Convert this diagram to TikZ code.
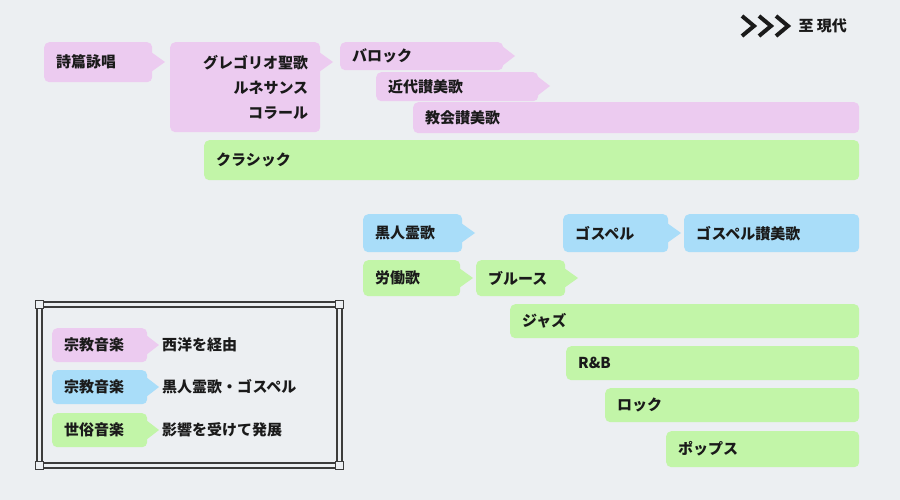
\documentclass[tikz,border=0pt]{standalone}
\usepackage{fontspec}
\setmainfont{Noto Sans CJK JP}
\definecolor{bg}{HTML}{ECEFF2}
\definecolor{pk}{HTML}{ECCBF0}
\definecolor{bl}{HTML}{A9DDF9}
\definecolor{gr}{HTML}{C2F5A8}
\definecolor{tx}{HTML}{1A1A1A}
\newcommand{\bx}[7]{% name, x1,y1,x2,y2,color,text
  \pgfmathsetmacro{\ww}{#4-#2-24}\pgfmathsetmacro{\hh}{#5-#3}
  \node[box,fill=#6,text width=\ww pt,minimum height=\hh pt] (#1) at (#2,#3) {#7};}
\newcommand{\tipp}[5]{% color, x, y, len, halfheight
  \fill[#1] (#2,#3-#5) -- (#2+#4,#3) -- (#2,#3+#5) -- cycle;}
\begin{document}
\begin{tikzpicture}[x=1pt,y=-1pt,
  box/.style={anchor=north west,rounded corners=5pt,inner xsep=12pt,inner ysep=0pt,align=left,font=\fontsize{15}{25}\selectfont\bfseries,text=tx},
  frm/.style={draw=tx!85,line width=1.4pt}]
\fill[bg] (0,0) rectangle (900,500);
\useasboundingbox (0,0) rectangle (900,500);
% top right
\foreach \i in {0,1,2}{
  \draw[line width=4pt,tx,line join=miter] (742+\i*17,16) -- (754+\i*17,26) -- (742+\i*17,36);}
\node[font=\fontsize{15}{18}\selectfont\bfseries,text=tx,anchor=west] (now) at (795,26) {至 現代};
% western religious
\bx{a}{44}{42}{152}{82}{pk}{詩篇詠唱}\tipp{pk}{151}{62}{14}{10}
\node[box,fill=pk,text width=126pt,minimum height=90pt,align=right,inner ysep=5pt] (b) at (170,42) {グレゴリオ聖歌\\ルネサンス\\コラール};
\tipp{pk}{319}{62}{14}{10}
\bx{c}{340}{42}{503}{70}{pk}{バロック}\tipp{pk}{502}{56}{13}{10}
\bx{d}{376}{72}{538}{101}{pk}{近代讃美歌}\tipp{pk}{537}{86}{13}{10}
\bx{e}{413}{102}{859}{133}{pk}{教会讃美歌}
\bx{f}{204}{140}{859}{180}{gr}{クラシック}
% black
\bx{g}{363}{214}{462}{252}{bl}{黒人霊歌}\tipp{bl}{461}{233}{14}{10}
\bx{h}{563}{214}{668}{252}{bl}{ゴスペル}\tipp{bl}{667}{233}{14}{10}
\bx{i}{684}{214}{859}{252}{bl}{ゴスペル讃美歌}
\bx{j}{363}{260}{460}{296}{gr}{労働歌}\tipp{gr}{459}{278}{14}{10}
\bx{k}{476}{260}{565}{296}{gr}{ブルース}\tipp{gr}{564}{278}{14}{10}
\bx{l}{510}{304}{859}{338}{gr}{ジャズ}
\bx{m}{566}{346}{859}{380}{gr}{R\&B}
\bx{n}{605}{388}{859}{422}{gr}{ロック}
\bx{o}{666}{431}{859}{467}{gr}{ポップス}
% legend frame
\draw[frm] (37,308) -- (37,462) (342,308) -- (342,462) (43,302) -- (336,302) (43,468) -- (336,468);
\draw[frm] (42,308) -- (42,462) (337,308) -- (337,462) (43,307) -- (336,307) (43,463) -- (336,463);
\foreach \p in {(39.5,304.5),(339.5,304.5),(39.5,465.5),(339.5,465.5)}
  \draw[frm,line width=1.2pt,fill=bg] \p ++(-4,-4) rectangle ++(8,8);
\bx{l1}{52}{328}{147}{362}{pk}{宗教音楽}\tipp{pk}{146}{345}{13}{10}
\bx{l2}{52}{370}{147}{404}{bl}{宗教音楽}\tipp{bl}{146}{387}{13}{10}
\bx{l3}{52}{413}{147}{447}{gr}{世俗音楽}\tipp{gr}{146}{430}{13}{10}
\node[box,anchor=west,fill=none] (t1) at (150,345) {西洋を経由};
\node[box,anchor=west,fill=none] (t2) at (150,387) {黒人霊歌・ゴスペル};
\node[box,anchor=west,fill=none] (t3) at (150,430) {影響を受けて発展};
\end{tikzpicture}
\end{document}
